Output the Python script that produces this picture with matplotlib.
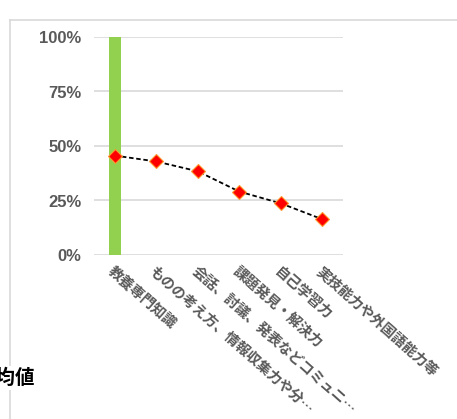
import matplotlib
matplotlib.use("Agg")
import matplotlib.pyplot as plt
import numpy as np

# categories and values
categories = ["教養専門知識",
              "ものの考え方、情報収集力や分…",
              "会話、討議、発表などコミュニ…",
              "課題発見・解決力",
              "自己学習力",
              "実技能力や外国語能力等"]
bar_values = [1.00, 0, 0, 0, 0, 0]
avg_values = [0.456, 0.429, 0.384, 0.291, 0.237, 0.164]
y_ticks = [0, 0.25, 0.5, 0.75, 1.0]
y_tick_labels = ["0%", "25%", "50%", "75%", "100%"]

fig = plt.figure(figsize=(4.57, 4.19), dpi=100)
ax = fig.add_axes([94 / 457, 164 / 419, 249 / 457, 218 / 419])

x = np.arange(len(categories))
ax.bar(x, bar_values, width=0.3, color="#92D050", zorder=2)
ax.plot(x, avg_values, color="black", linestyle=(0, (2.5, 1.5)), linewidth=1.3,
        marker="D", markersize=7, markerfacecolor="#FF0000",
        markeredgecolor="#FF9A2E", markeredgewidth=0.8, zorder=3)

ax.set_xlim(-0.5, len(categories) - 0.5)
ax.set_ylim(0, 1.0)
ax.set_yticks(y_ticks)
ax.set_yticklabels(y_tick_labels, fontname="Liberation Sans", fontweight="bold",
                   fontsize=12, color="#595959")
ax.yaxis.grid(True, color="#D9D9D9", linewidth=1.2, zorder=0)
ax.set_axisbelow(True)
ax.tick_params(axis="y", length=0, pad=9)
ax.tick_params(axis="x", length=0, pad=7)
ax.set_xticks(x)
ax.set_xticklabels(categories, rotation=-41.5, ha="left", va="top",
                   rotation_mode="anchor", fontsize=10.3, fontweight="bold",
                   color="#595959", family=["Noto Sans CJK JP", "DejaVu Sans"])
for s in ax.spines.values():
    s.set_visible(False)

# outer frame lines
fig.add_artist(plt.Line2D([10 / 457, 1], [1 - 20 / 419, 1 - 20 / 419],
                          color="#D9D9D9", linewidth=1.2))
fig.add_artist(plt.Line2D([10 / 457, 10 / 457], [0, 1 - 20 / 419],
                          color="#D9D9D9", linewidth=1.2))

# legend-ish label cut at the left edge, as in the original
fig.text(35 / 457, 1 - 378 / 419, "平均値", ha="right", va="center",
         fontsize=14, fontweight="bold", color="black",
         family=["Noto Sans CJK JP", "DejaVu Sans"],
         bbox=dict(facecolor="white", edgecolor="none", pad=2))

fig.savefig("out.png", dpi=100)
